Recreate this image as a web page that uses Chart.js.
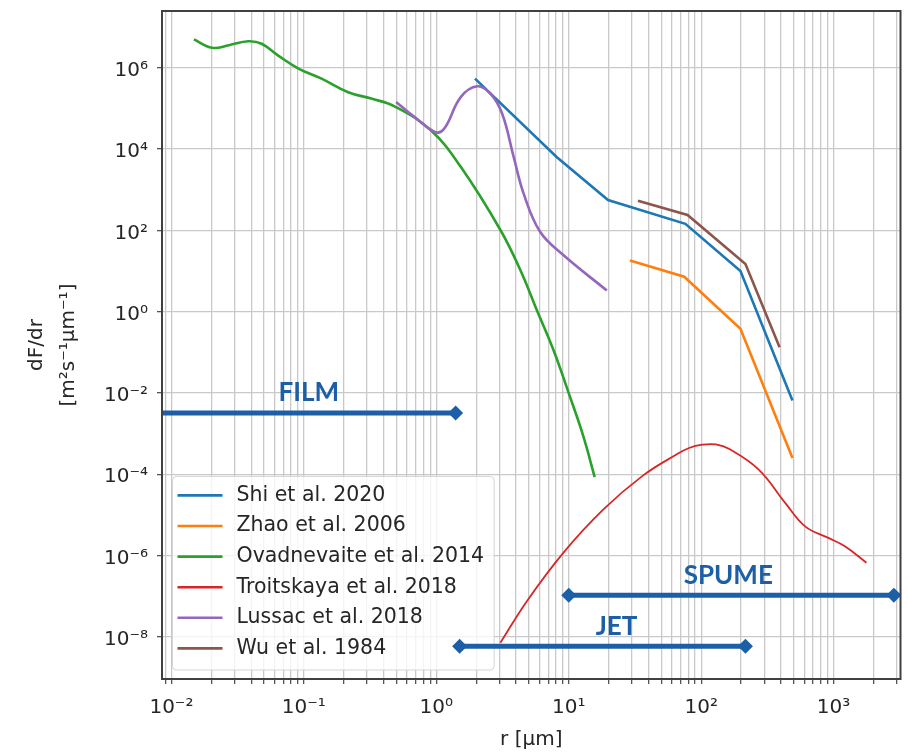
<!DOCTYPE html>
<html>
<head>
<meta charset="utf-8">
<script src="https://cdn.jsdelivr.net/npm/chart.js@4.4.0/dist/chart.umd.min.js"></script>
<style>
  html, body { margin: 0; padding: 0; background: #fff; }
  #wrap { width: 908px; height: 752px; }
</style>
</head>
<body>
<div id="wrap"><canvas id="chart" width="908" height="752"></canvas></div>
<script>
// ===== DATA (r in µm, dF/dr) =====
const shiR = [1.96, 8.1, 19.8, 76, 198, 489];
const shiF = [5.4e5, 6.4e3, 555, 145, 10, 6.5e-3];

const zhaoR = [29, 74.5, 198, 489];
const zhaoF = [18, 7.2, 0.38, 2.5e-4];

const ovadR = [0.0148, 0.0203, 0.0272, 0.038, 0.048, 0.064, 0.091, 0.136, 0.216, 0.323, 0.483, 0.91, 1.53, 3.05, 4.31, 5.74, 7.66, 10.2, 12.9, 15.7];
const ovadF = [5.0e6, 3.1e6, 3.6e6, 4.5e6, 3.9e6, 2.0e6, 9.6e5, 5.4e5, 2.5e5, 1.75e5, 1.13e5, 2.9e4, 3.65e3, 102, 10.6, 1.1, 0.115, 8.2e-3, 8.5e-4, 8.5e-5];

const troitR = [3.05, 4.83, 9.1, 18.2, 36.3, 64.5, 81, 102, 129, 162, 272, 431, 609, 912, 1217, 1770];
const troitF = [7.1e-9, 7.5e-8, 1.16e-6, 1.34e-5, 9.2e-5, 3.0e-4, 4.4e-4, 5.3e-4, 5.4e-4, 4.2e-4, 1.29e-4, 1.96e-5, 5.2e-6, 2.7e-6, 1.68e-6, 6.6e-7];

const lussacR = [0.497, 0.683, 0.99, 1.15, 1.53, 2.04, 2.56, 3.14, 3.84, 4.56, 6.08, 9.1, 19.4];
const lussacF = [1.45e5, 6.2e4, 2.6e4, 3.2e4, 1.9e5, 3.5e5, 2.3e5, 7.5e4, 6.4e3, 811, 92, 24.7, 3.3];

const wuR = [33.3, 78.9, 216, 391];
const wuF = [533, 238, 14.9, 0.133];

// regimes drawn as double-ended bars
const regimeNames = ['FILM', 'JET', 'SPUME'];
const regimeStart = [0.005, 1.5, 10];
const regimeEnd = [1.4, 216, 2850];
const regimeLevel = [3.2e-3, 5.8e-9, 1.05e-7];

// axes
const xMin = 0.00849, xMax = 3200;
const yMin = 9.1e-10, yMax = 2.5e7;
const xTickExps = [-2, -1, 0, 1, 2, 3];
const xTickLabels = ['10⁻²', '10⁻¹', '10⁰', '10¹', '10²', '10³'];
const yTickExps = [-8, -6, -4, -2, 0, 2, 4, 6];
const yTickLabels = ['10⁻⁸', '10⁻⁶', '10⁻⁴', '10⁻²', '10⁰', '10²', '10⁴', '10⁶'];

// ===== helpers =====
const pts = (xs, ys) => xs.map((x, i) => ({ x: x, y: ys[i] }));

// x ticks: 1..9 x 10^n inside the range, labels only on powers of ten
const xTicks = [];
for (let e = -3; e <= 3; e++) {
    for (let m = 1; m <= 9; m++) {
        const v = m * Math.pow(10, e);
        if (v < xMin || v > xMax) continue;
        const k = xTickExps.indexOf(e);
        xTicks.push({ value: v, label: (m === 1 && k >= 0) ? xTickLabels[k] : '' });
    }
}

const series = [
    { label: 'Shi et al. 2020', r: shiR, f: shiF, color: '#1f77b4', smooth: false },
    { label: 'Zhao et al. 2006', r: zhaoR, f: zhaoF, color: '#ff7f0e', smooth: false },
    { label: 'Ovadnevaite et al. 2014', r: ovadR, f: ovadF, color: '#2ca02c', smooth: true },
    { label: 'Troitskaya et al. 2018', r: troitR, f: troitF, color: '#d62728', smooth: true, width: 1.8 },
    { label: 'Lussac et al. 2018', r: lussacR, f: lussacF, color: '#9467bd', smooth: true },
    { label: 'Wu et al. 1984', r: wuR, f: wuF, color: '#8c564b', smooth: false }
];

const REGIME_COLOR = '#1c5fa6';

const datasets = series.map((s, i) => ({
    label: s.label,
    data: pts(s.r, s.f),
    borderColor: s.color,
    backgroundColor: s.color,
    borderWidth: s.width || 2.6,
    pointRadius: 0,
    tension: s.smooth ? 0.4 : 0,
    order: 20 - i
}));

regimeNames.forEach((name, i) => {
    datasets.push({
        label: name,
        regime: true,
        data: pts([regimeStart[i], regimeEnd[i]], [regimeLevel[i], regimeLevel[i]]),
        borderColor: REGIME_COLOR,
        backgroundColor: REGIME_COLOR,
        borderWidth: 5,
        pointStyle: 'rectRot',
        pointRadius: 7.5,
        pointBorderWidth: 0,
        order: 0
    });
});

// ===== legend, regime labels and frame =====
function drawLegend(chart) {
    const { ctx, chartArea } = chart;
    const items = chart.data.datasets.filter(d => !d.regime);
    ctx.save();
    ctx.font = '20.5px "DejaVu Sans"';
    const maxW = Math.max(...items.map(d => ctx.measureText(d.label).width));
    const rowH = 30.6;
    const left = chartArea.left + 10.5;
    const h = items.length * rowH + 10;
    const top = chartArea.bottom - 9 - h;
    const w = 64 + maxW + 10;
    ctx.beginPath();
    if (ctx.roundRect) ctx.roundRect(left, top, w, h, 4); else ctx.rect(left, top, w, h);
    ctx.fillStyle = 'rgba(255,255,255,0.8)';
    ctx.fill();
    ctx.strokeStyle = '#d4d4d4';
    ctx.lineWidth = 1;
    ctx.stroke();
    items.forEach((d, i) => {
        const y = top + 19 + i * rowH;
        ctx.strokeStyle = d.borderColor;
        ctx.lineWidth = 2.6;
        ctx.beginPath();
        ctx.moveTo(left + 5, y);
        ctx.lineTo(left + 50, y);
        ctx.stroke();
        ctx.fillStyle = '#262626';
        ctx.textBaseline = 'middle';
        ctx.textAlign = 'left';
        ctx.fillText(d.label, left + 64, y);
    });
    ctx.restore();
}

const labelNudge = [0, 14, -3];

const extras = {
    id: 'extras',
    beforeDatasetsDraw(chart) {
        drawLegend(chart);
    },
    afterDatasetsDraw(chart) {
        const { ctx, chartArea, scales } = chart;
        ctx.save();
        ctx.font = 'bold 26px Lato';
        ctx.fillStyle = REGIME_COLOR;
        ctx.textAlign = 'center';
        ctx.textBaseline = 'middle';
        regimeNames.forEach((name, i) => {
            const a = Math.max(regimeStart[i], xMin), b = Math.min(regimeEnd[i], xMax);
            const mid = Math.sqrt(a * b);
            const px = scales.x.getPixelForValue(mid) + labelNudge[i];
            const py = scales.y.getPixelForValue(regimeLevel[i]) - 20;
            ctx.fillText(name, px, py);
        });
        ctx.strokeStyle = '#404040';
        ctx.lineWidth = 2;
        ctx.strokeRect(chartArea.left, chartArea.top, chartArea.right - chartArea.left, chartArea.bottom - chartArea.top);
        ctx.restore();
    }
};

// ===== CHART =====
Chart.defaults.font.family = '"DejaVu Sans"';
Chart.defaults.color = '#262626';

const ctx = document.getElementById('chart').getContext('2d');
new Chart(ctx, {
    type: 'line',
    data: { datasets: datasets },
    plugins: [extras],
    options: {
        responsive: false,
        devicePixelRatio: 1,
        animation: false,
        layout: { padding: { left: 0, right: 2, top: 11, bottom: 0 } },
        plugins: {
            legend: { display: false },
            tooltip: { enabled: false }
        },
        scales: {
            x: {
                type: 'logarithmic',
                min: xMin,
                max: xMax,
                bounds: 'data',
                afterBuildTicks: s => { s.ticks = xTicks.map(t => ({ value: t.value })); },
                afterFit: s => { s.height = 73; s.paddingLeft = 0; s.paddingRight = 0; },
                ticks: {
                    autoSkip: false,
                    maxRotation: 0,
                    padding: 12,
                    font: { size: 20 },
                    callback: (v, i) => xTicks[i] ? xTicks[i].label : ''
                },
                grid: { color: '#c9c9c9', lineWidth: 1.3, tickLength: 5, tickColor: '#555' },
                border: { display: false },
                title: { display: true, text: 'r [μm]', font: { size: 20 }, padding: { top: 0, bottom: 0 } }
            },
            y: {
                type: 'logarithmic',
                min: yMin,
                max: yMax,
                bounds: 'data',
                afterBuildTicks: s => { s.ticks = yTickExps.map(e => ({ value: Math.pow(10, e) })); },
                afterFit: s => { s.width = 162; s.paddingTop = 0; s.paddingBottom = 0; },
                ticks: {
                    autoSkip: false,
                    padding: 9,
                    labelOffset: 3,
                    font: { size: 20 },
                    callback: (v, i) => yTickLabels[i]
                },
                grid: { color: '#c9c9c9', lineWidth: 1.3, tickLength: 5, tickColor: '#555' },
                border: { display: false },
                title: {
                    display: true,
                    text: ['dF/dr', '[m²s⁻¹μm⁻¹]'],
                    font: { size: 20, lineHeight: 1.6 },
                    padding: { top: 21, bottom: 0 }
                }
            }
        }
    }
});
</script>
</body>
</html>
